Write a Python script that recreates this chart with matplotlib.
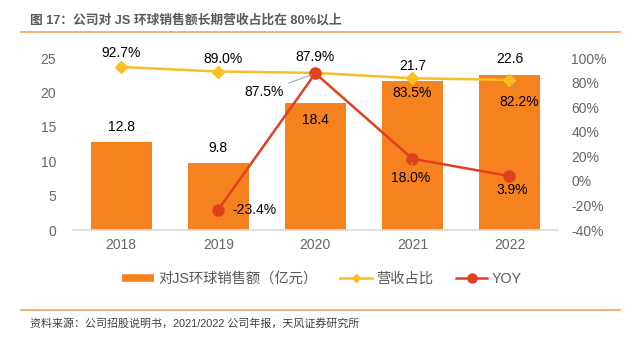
import numpy as np
import matplotlib
matplotlib.use('Agg')
import matplotlib.pyplot as plt
from matplotlib.lines import Line2D

plt.rcParams['font.family'] = ['Liberation Sans', 'Noto Sans CJK SC', 'DejaVu Sans']

# Data
years = ['2018', '2019', '2020', '2021', '2022']
sales = [12.8, 9.8, 18.4, 21.7, 22.6]          # 对JS环球销售额（亿元）
share = [92.7, 89.0, 87.9, 83.5, 82.2]         # 营收占比 (%)
yoy = [np.nan, -23.4, 87.5, 18.0, 3.9]         # YOY (%)

left_ticks = [0, 5, 10, 15, 20, 25]
right_ticks = [-40, -20, 0, 20, 40, 60, 80, 100]

# Colours
c_bar = '#F5821F'
c_share = '#F9BE24'
c_yoy = '#E0401E'
c_tick = '#666666'
c_rule = '#F4A15D'

W, H = 635, 342
fig = plt.figure(figsize=(W / 100, H / 100), dpi=100)
ax = fig.add_axes([72.7 / W, 1 - 230 / H, (558 - 72.7) / W, 172 / H])
ax2 = ax.twinx()

x = np.arange(len(years))
bars = ax.bar(x, sales, width=0.63, color=c_bar, zorder=2)
ax.set_xlim(-0.5, len(years) - 0.5)
ax.set_ylim(0, 25)
ax.set_yticks(left_ticks)
ax.set_xticks(x)
ax.set_xticklabels(years)

ax2.set_ylim(-40, 100)
ax2.set_yticks(right_ticks)
ax2.set_yticklabels(['%d%%' % t for t in right_ticks])

for a in (ax, ax2):
    for s in a.spines.values():
        s.set_visible(False)
    a.tick_params(length=0, colors=c_tick, labelsize=10)
ax.spines['bottom'].set_visible(True)
ax.spines['bottom'].set_color('#D9D9D9')
ax.spines['bottom'].set_linewidth(1.2)
ax.tick_params(axis='y', pad=12)
ax.tick_params(axis='x', pad=6)
ax2.tick_params(axis='y', pad=9.5)

ax2.plot(x, share, color=c_share, lw=1.8, marker='D', ms=6, zorder=3)
ax2.plot(x, yoy, color=c_yoy, lw=1.8, marker='o', ms=8, zorder=4)

# Bar value labels (offsets in pixels from bar top)
bar_off = [15, 15, -17, 15, 16]
for xi, v, dy in zip(x, sales, bar_off):
    ax.annotate('%.1f' % v, (xi, v), xytext=(0, dy), textcoords='offset pixels',
                ha='center', va='center', fontsize=10, color='black', zorder=6)

# Share labels
share_off = [(0, 14), (5, 13), (0, 16), (0, -15), (10, -22)]
for xi, v, (dx, dy) in zip(x, share, share_off):
    arrow = None
    if xi == 4:
        arrow = dict(arrowstyle='-', color='#A6A6A6', lw=0.8, shrinkA=2, shrinkB=3)
    ax2.annotate('%.1f%%' % v, (xi, v), xytext=(dx, dy), textcoords='offset pixels',
                 ha='center', va='center', fontsize=10, color='black',
                 arrowprops=arrow, zorder=6)

# YOY labels
yoy_lab = {1: ((14, 0), 'left', False),
           2: ((-32, -19), 'right', True),
           3: ((-2, -19), 'center', True),
           4: ((3, -14), 'center', False)}
for i, ((dx, dy), ha, lead) in yoy_lab.items():
    arrow = None
    if lead:
        arrow = dict(arrowstyle='-', color='#A6A6A6', lw=0.8, shrinkA=2, shrinkB=3)
    ax2.annotate('%.1f%%' % yoy[i], (x[i], yoy[i]), xytext=(dx, dy),
                 textcoords='offset pixels', ha=ha, va='center', fontsize=10,
                 color='black', arrowprops=arrow, zorder=6)

# Legend
handles = [Line2D([], [], color=c_bar, lw=5.5, solid_capstyle='butt'),
           Line2D([], [], color=c_share, lw=1.8, marker='D', ms=4.5),
           Line2D([], [], color=c_yoy, lw=1.8, marker='o', ms=6.5)]
labels = ['对JS环球销售额（亿元）', '营收占比', 'YOY']
leg = fig.legend(handles, labels, loc='center', bbox_to_anchor=(322 / W, 1 - 279 / H),
                 ncol=3, frameon=False, fontsize=10.3, handlelength=2.2,
                 handletextpad=0.3, columnspacing=1.6)
for t in leg.get_texts():
    t.set_color('#595959')

# Title, rules and source
fig.text(30 / W, 1 - 20 / H, '图 17：公司对 JS 环球销售额长期营收占比在 80%以上',
         fontsize=9.2, fontweight='bold', color='#595959', va='center', ha='left')
fig.add_artist(Line2D([21 / W, 620 / W], [1 - 31.7 / H] * 2, color=c_rule, lw=1.2,
                      transform=fig.transFigure))
fig.add_artist(Line2D([21 / W, 620 / W], [1 - 310 / H] * 2, color=c_rule, lw=1.2,
                      transform=fig.transFigure))
fig.text(30 / W, 1 - 323 / H, '资料来源：公司招股说明书，2021/2022 公司年报，天风证券研究所',
         fontsize=7.9, color='#404040', va='center', ha='left')

fig.savefig('out.png', dpi=100)
plt.close('all')
